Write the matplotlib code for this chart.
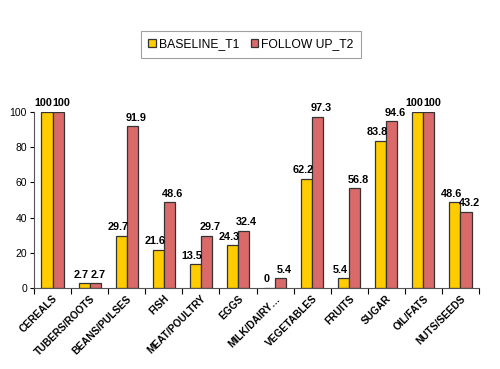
import matplotlib
matplotlib.use("Agg")
import matplotlib.pyplot as plt
import numpy as np

plt.rcParams["font.family"] = ["Liberation Sans", "DejaVu Sans"]

categories = ["CEREALS", "TUBERS/ROOTS", "BEANS/PULSES", "FISH", "MEAT/POULTRY", "EGGS",
              "MILK/DAIRY…", "VEGETABLES", "FRUITS", "SUGAR", "OIL/FATS", "NUTS/SEEDS"]
baseline = [100, 2.7, 29.7, 21.6, 13.5, 24.3, 0, 62.2, 5.4, 83.8, 100, 48.6]
follow_up = [100, 2.7, 91.9, 48.6, 29.7, 32.4, 5.4, 97.3, 56.8, 94.6, 100, 43.2]
labels_b = ["100", "2.7", "29.7", "21.6", "13.5", "24.3", "0", "62.2", "5.4", "83.8", "100", "48.6"]
labels_f = ["100", "2.7", "91.9", "48.6", "29.7", "32.4", "5.4", "97.3", "56.8", "94.6", "100", "43.2"]

fig = plt.figure(figsize=(5.0, 3.69), dpi=100)
ax = fig.add_axes([0.068, 0.2195, 0.89, 0.477])

x = np.arange(len(categories))
w = 0.3
yellow = "#FFCC00"
red = "#DA6A6A"
b1 = ax.bar(x - w/2, baseline, w, color=yellow, edgecolor="#333333", linewidth=0.9, label="BASELINE_T1")
b2 = ax.bar(x + w/2, follow_up, w, color=red, edgecolor="#333333", linewidth=0.9, label="FOLLOW UP_T2")

for xi, v, t in zip(x, baseline, labels_b):
    ax.text(xi - w/2 - 0.09, v + 2, t, ha="center", va="bottom", fontsize=7.8, fontweight="bold")
for xi, v, t in zip(x, follow_up, labels_f):
    ax.text(xi + w/2 + 0.09, v + 2, t, ha="center", va="bottom", fontsize=7.8, fontweight="bold")

ax.set_xlim(-0.5, len(categories) - 0.5)
ax.set_ylim(0, 100)
ax.set_yticks([0, 20, 40, 60, 80, 100])
ax.tick_params(axis="y", labelsize=7.5, length=3, direction="out", width=0.8, pad=2)
ax.set_xticks(x)
ax.set_xticklabels(categories, rotation=45, ha="right", rotation_mode="anchor",
                   fontsize=7.3, fontweight="bold")
ax.tick_params(axis="x", length=0, pad=4)
ax.set_xticks(np.arange(-0.5, len(categories)), minor=True)
ax.tick_params(axis="x", which="minor", length=4, direction="out", width=0.8)
for s in ["top", "right"]:
    ax.spines[s].set_visible(False)
for s in ["left", "bottom"]:
    ax.spines[s].set_color("#555555")
    ax.spines[s].set_linewidth(0.8)

leg = fig.legend(handles=[b1, b2], loc="center", bbox_to_anchor=(0.502, 0.88), ncol=2,
                 fontsize=8.7, frameon=True, fancybox=False, edgecolor="#888888",
                 handlelength=0.6, handleheight=0.6, handletextpad=0.25, columnspacing=1.0,
                 borderpad=0.6)
leg.get_frame().set_linewidth(0.8)

fig.savefig("out.png", dpi=100)
